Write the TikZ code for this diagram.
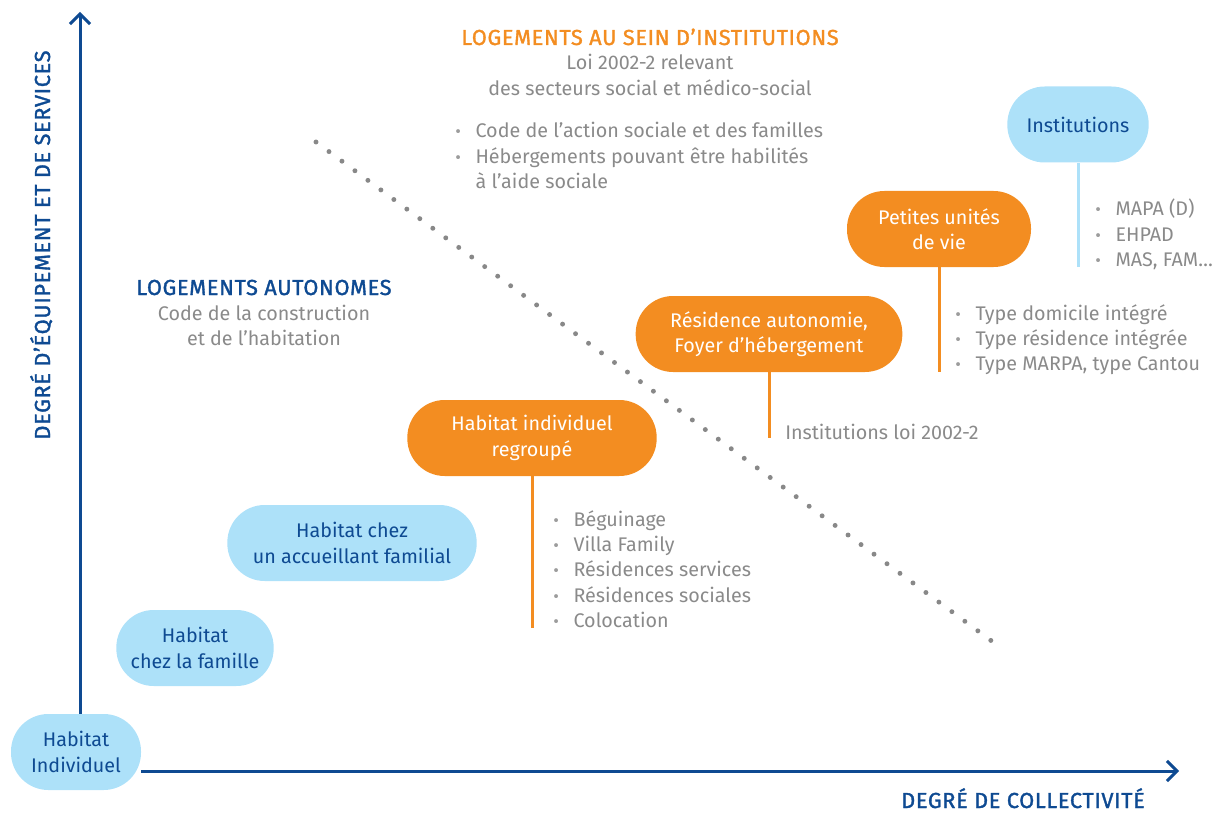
\documentclass[tikz,border=0pt]{standalone}
\usepackage{fontspec}
\setmainfont{Fira Sans}
\newfontfamily\titrefont{Fira Sans}[FakeBold=1.5, LetterSpace=3]
\usetikzlibrary{arrows.meta}

\definecolor{bleufonce}{HTML}{0E4A92}
\definecolor{bleuclair}{HTML}{ADE1F9}
\definecolor{orangevif}{HTML}{F38D21}
\definecolor{gristexte}{HTML}{8A8A8A}
\definecolor{grispoint}{HTML}{888888}

\newcommand{\puce}{\raisebox{0pt}{\color{gristexte!85}\fontsize{13}{13}\selectfont •}}

\tikzset{
  pillb/.style={fill=bleuclair, text=bleufonce, rounded corners=28pt, minimum height=57pt, align=center, inner sep=0pt},
  pillo/.style={fill=orangevif, text=white, rounded corners=28pt, minimum height=57pt, align=center, inner sep=0pt},
  liste/.style={text=gristexte, anchor=base west, inner sep=0pt},
  texte/.style={text=gristexte, anchor=base, inner sep=0pt},
  titre/.style={font=\fontsize{16.3}{19}\titrefont, anchor=base, inner sep=0pt},
  axe/.style={bleufonce, line width=2.25pt, -{Straight Barb[length=7.5pt, width=15pt]}},
  tige/.style={line width=2.25pt},
  pointille/.style={grispoint, line width=3.7pt, line cap=round, dash pattern=on 0pt off 12.1pt}
}

\begin{document}
\begin{tikzpicture}[x=0.75pt, y=-0.75pt, font=\fontsize{14.8}{19}\selectfont]
\useasboundingbox (0,0) rectangle (1232,813);

\coordinate (d1) at (316,142);
\coordinate (d2) at (997,645);
\draw[pointille] (d1) -- (d2);

\node[pillb, minimum width=97.5pt] (H1) at (76,752) {Habitat\\Individuel};
\node[pillb, minimum width=118pt] (H2) at (195,648) {Habitat\\chez la famille};
\node[pillb, minimum width=187pt] (H3) at (352,543) {Habitat chez\\un accueillant familial};
\node[pillo, minimum width=187pt] (R1) at (532,438) {Habitat individuel\\regroupé};
\node[pillo, minimum width=200pt] (R2) at (769,334) {Résidence autonomie,\\Foyer d’hébergement};
\node[pillo, minimum width=138pt] (R3) at (939,229) {Petites unités\\de vie};
\node[pillb, minimum width=106pt] (I1) at (1078,124.5) {Institutions};

\coordinate (yHaut) at (80,12);
\coordinate (xDroite) at (1179,771);
\draw[axe] (H1.north -| yHaut) -- (yHaut);
\draw[axe] (H1.east |- xDroite) -- (xDroite);

\coordinate (fR1) at (532,628);
\coordinate (fR2) at (769,438);
\coordinate (fR3) at (939,372);
\coordinate (fI1) at (1078,267);
\draw[tige, orangevif] (R1.south) -- (fR1);
\draw[tige, orangevif] (R2.south) -- (fR2);
\draw[tige, orangevif] (R3.south) -- (fR3);
\draw[tige, bleuclair] (I1.south) -- (fI1);

\node[titre, text=bleufonce, rotate=90] (AY) at (50,245) {DEGRÉ D’ÉQUIPEMENT ET DE SERVICES};
\node[titre, text=bleufonce] (AX) at (1023,808) {DEGRÉ DE COLLECTIVITÉ};

\node[titre, text=orangevif] (T1) at (650,45) {LOGEMENTS AU SEIN D’INSTITUTIONS};
\node[texte] (T1b) at (650,70) {\begin{tabular}[t]{@{}c@{}}Loi 2002-2 relevant\\des secteurs social et médico-social\end{tabular}};
\node[liste] (T1c) at (455,138) {\begin{tabular}[t]{@{}l@{\hspace{11pt}}l@{}}
  \puce & Code de l’action sociale et des familles\\
  \puce & Hébergements pouvant être habilités\\
        & à l’aide sociale\end{tabular}};

\node[titre, text=bleufonce] (T2) at (264,295) {LOGEMENTS AUTONOMES};
\node[texte] (T2b) at (264,320) {\begin{tabular}[t]{@{}c@{}}Code de la construction\\et de l’habitation\end{tabular}};

\node[liste] (L1) at (553,526) {\begin{tabular}[t]{@{}l@{\hspace{11pt}}l@{}}
  \puce & Béguinage\\
  \puce & Villa Family\\
  \puce & Résidences services\\
  \puce & Résidences sociales\\
  \puce & Colocation\end{tabular}};
\node[liste] (L2) at (785,439) {Institutions loi 2002-2};
\node[liste] (L3) at (955,320) {\begin{tabular}[t]{@{}l@{\hspace{11pt}}l@{}}
  \puce & Type domicile intégré\\
  \puce & Type résidence intégrée\\
  \puce & Type MARPA, type Cantou\end{tabular}};
\node[liste] (L4) at (1095,216) {\begin{tabular}[t]{@{}l@{\hspace{11pt}}l@{}}
  \puce & MAPA (D)\\
  \puce & EHPAD\\
  \puce & MAS, FAM…\end{tabular}};
\end{tikzpicture}
\end{document}
